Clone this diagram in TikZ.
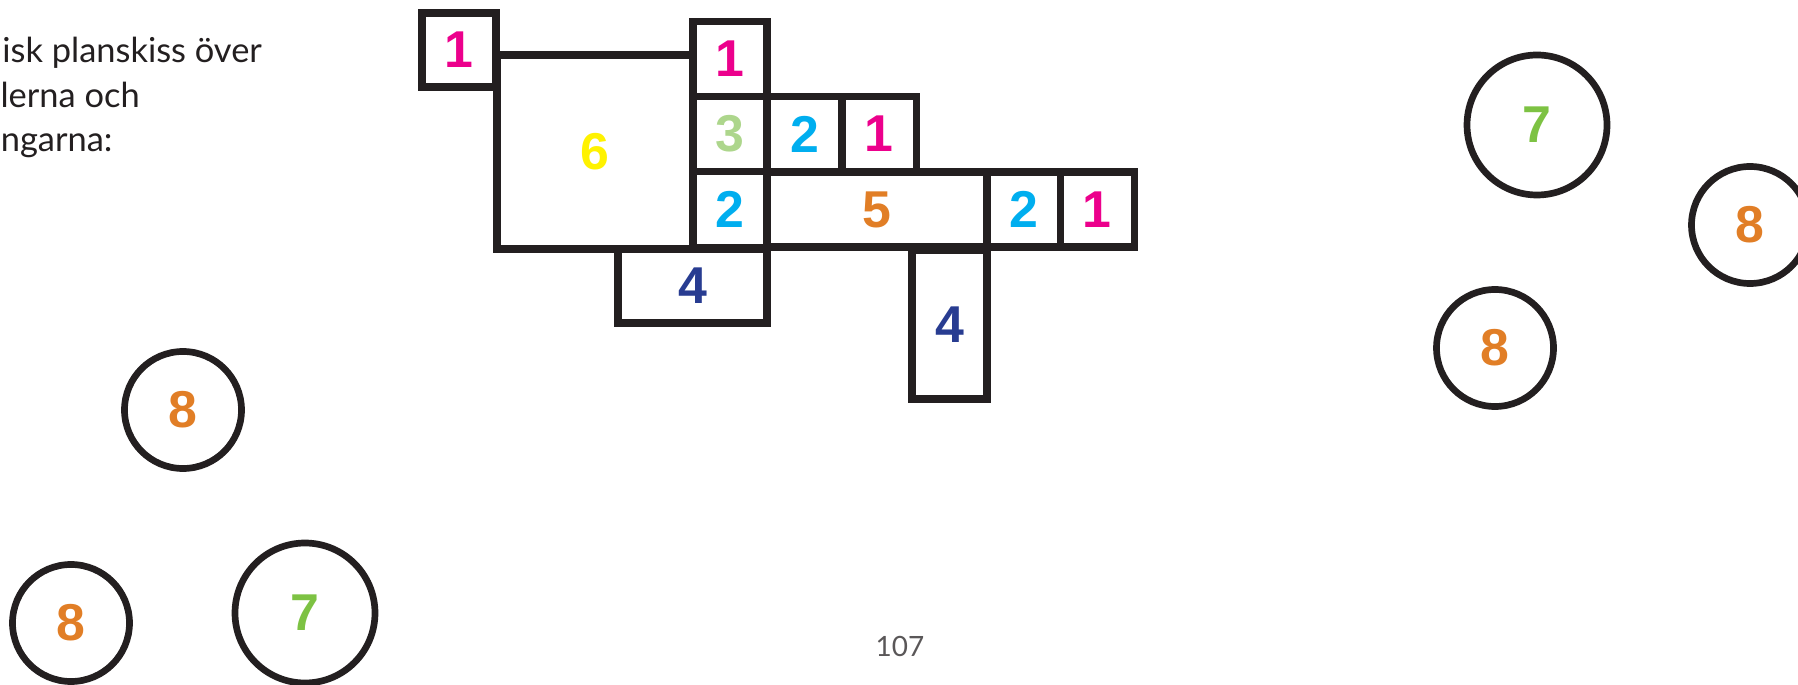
\documentclass[tikz,border=0pt]{standalone}
\usepackage{fontspec}
\setmainfont{Lato}
\newfontfamily\digitfont{Liberation Sans}
\definecolor{ink}{RGB}{35,31,32}
\definecolor{numpink}{RGB}{236,0,140}
\definecolor{numyellow}{RGB}{255,242,0}
\definecolor{numlime}{RGB}{173,214,140}
\definecolor{numcyan}{RGB}{0,174,239}
\definecolor{numorange}{RGB}{225,126,38}
\definecolor{numnavy}{RGB}{40,60,145}
\definecolor{numgreen}{RGB}{125,194,67}
\def\px{0.02cm}

\begin{document}
\begin{tikzpicture}[x=\px,y=-\px,line join=miter,
  box/.style 2 args={draw=ink,line width=4pt,rectangle,inner sep=0pt,outer sep=0pt,minimum width=#1*\px,minimum height=#2*\px,font=\digitfont\bfseries\fontsize{29.5}{30}\selectfont},
  ring/.style={draw=ink,line width=3.8pt,circle,inner sep=0pt,outer sep=0pt,minimum size=#1*\px,font=\digitfont\bfseries\fontsize{29.5}{30}\selectfont},
  caption/.style={anchor=base west,inner sep=0pt,text=ink,font=\fontsize{19.6}{24}\selectfont}]
\useasboundingbox (0,0) rectangle (1798,685);
\node[box={74}{74},text=numpink] (one a) at (459,50) {1};
\node[box={196}{194},text=numyellow] (six) at (595,152) {6};
\node[box={74}{75},text=numpink] (one b) at (730,58.7) {1};
\node[box={74}{75},text=numlime] (three) at (730,134) {3};
\node[box={75}{75},text=numcyan] (two a) at (804.5,134) {2};
\node[box={75}{75},text=numpink] (one c) at (879.3,134) {1};
\node[box={74}{76},text=numcyan] (two b) at (730,209.7) {2};
\node[box={220}{75},text=numorange] (five) at (877,209.5) {5};
\node[box={73}{75},text=numcyan] (two c) at (1023.7,209.5) {2};
\node[box={74}{75},text=numpink] (one d) at (1097,209.5) {1};
\node[box={149}{74},text=numnavy] (four a) at (692.5,286) {4};
\node[box={75}{149},text=numnavy] (four b) at (949.5,324.5) {4};
\node[ring=140,text=numgreen] (seven a) at (1537,125) {7};
\node[ring=117,text=numorange] (eight a) at (1750,225) {8};
\node[ring=117,text=numorange] (eight b) at (1495,348) {8};
\node[ring=117,text=numorange] (eight c) at (183,410) {8};
\node[ring=117,text=numorange] (eight d) at (71,623) {8};
\node[ring=140,text=numgreen] (seven b) at (305,613) {7};
\node[caption] (line a) at (2,62.7) {isk planskiss över};
\node[caption] (line b) at (-19,107.3) {ulerna och};
\node[caption] (line c) at (0.5,151.7) {ngarna:};
\node[anchor=base,inner sep=0pt,text=ink!75,font=\fontsize{15.9}{18}\selectfont] (page) at (900,656.7) {107};
\end{tikzpicture}
\end{document}
